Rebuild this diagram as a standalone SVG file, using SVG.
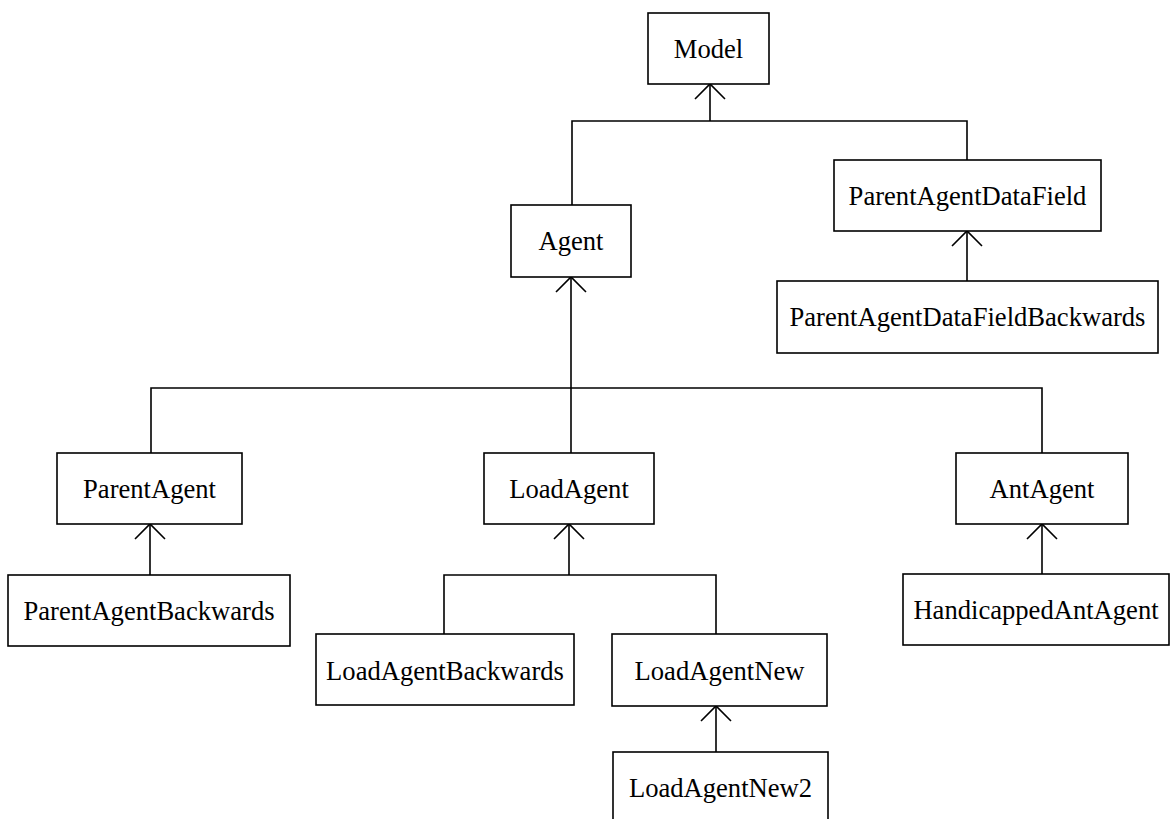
<svg xmlns="http://www.w3.org/2000/svg" width="1171" height="819" viewBox="0 0 1171 819">
  <style>
    .box { fill: #ffffff; stroke: #000000; stroke-width: 1.6; }
    .lbl { font-family: "Liberation Serif", "Times New Roman", serif; font-size: 26.6px; fill: #000000; text-anchor: middle; }
    .edge { fill: none; stroke: #000000; stroke-width: 1.6; }
    .gen { marker-start: url(#open); }
  </style>
  <defs>
    <!-- open arrowhead pointing at the parent class -->
    <marker id="open" markerUnits="userSpaceOnUse" markerWidth="34" markerHeight="34" viewBox="-17 -17 34 34" refX="0" refY="0" orient="auto-start-reverse" overflow="visible">
      <path d="M-15,-15 L0,0 L-15,15" fill="none" stroke="#000000" stroke-width="1.6"/>
    </marker>
  </defs>
  <rect width="1171" height="819" fill="#ffffff"/>

  <!-- inheritance connectors -->
  <g id="connectors">
    <path class="edge gen" d="M710,84 V121"/>
    <path class="edge" d="M572,205 V121 H967 V160"/>
    <path class="edge gen" d="M967,231 V281"/>
    <path class="edge gen" d="M571,277 V388"/>
    <path class="edge" d="M151,453 V388 H1042 V453"/>
    <path class="edge" d="M571,388 V453"/>
    <path class="edge gen" d="M150,524 V575"/>
    <path class="edge gen" d="M569,524 V575"/>
    <path class="edge" d="M444,634 V575 H716 V634"/>
    <path class="edge gen" d="M716,706 V752"/>
    <path class="edge gen" d="M1042,524 V574"/>
  </g>

  <g id="model">
    <rect class="box" x="648" y="13" width="121" height="71"/>
    <text class="lbl" x="708.5" y="58">Model</text>
  </g>
  <g id="agent">
    <rect class="box" x="511" y="205" width="120" height="72"/>
    <text class="lbl" x="571" y="250">Agent</text>
  </g>
  <g id="parent-agent-data-field">
    <rect class="box" x="834" y="160" width="267" height="71"/>
    <text class="lbl" x="967.5" y="205">ParentAgentDataField</text>
  </g>
  <g id="parent-agent-data-field-backwards">
    <rect class="box" x="777" y="281" width="381" height="72"/>
    <text class="lbl" x="967.5" y="326">ParentAgentDataFieldBackwards</text>
  </g>
  <g id="parent-agent">
    <rect class="box" x="57" y="453" width="185" height="71"/>
    <text class="lbl" x="149.5" y="498">ParentAgent</text>
  </g>
  <g id="load-agent">
    <rect class="box" x="484" y="453" width="170" height="71"/>
    <text class="lbl" x="569" y="498">LoadAgent</text>
  </g>
  <g id="ant-agent">
    <rect class="box" x="956" y="453" width="172" height="71"/>
    <text class="lbl" x="1042" y="498">AntAgent</text>
  </g>
  <g id="parent-agent-backwards">
    <rect class="box" x="8" y="575" width="282" height="71"/>
    <text class="lbl" x="149" y="620">ParentAgentBackwards</text>
  </g>
  <g id="load-agent-backwards">
    <rect class="box" x="316" y="634" width="258" height="71"/>
    <text class="lbl" x="445" y="679.5">LoadAgentBackwards</text>
  </g>
  <g id="load-agent-new">
    <rect class="box" x="612" y="634" width="215" height="72"/>
    <text class="lbl" x="719.5" y="679.5">LoadAgentNew</text>
  </g>
  <g id="load-agent-new2">
    <rect class="box" x="613" y="752" width="215" height="80"/>
    <text class="lbl" x="720.5" y="797">LoadAgentNew2</text>
  </g>
  <g id="handicapped-ant-agent">
    <rect class="box" x="903" y="574" width="266" height="71"/>
    <text class="lbl" x="1036" y="619">HandicappedAntAgent</text>
  </g>
</svg>
